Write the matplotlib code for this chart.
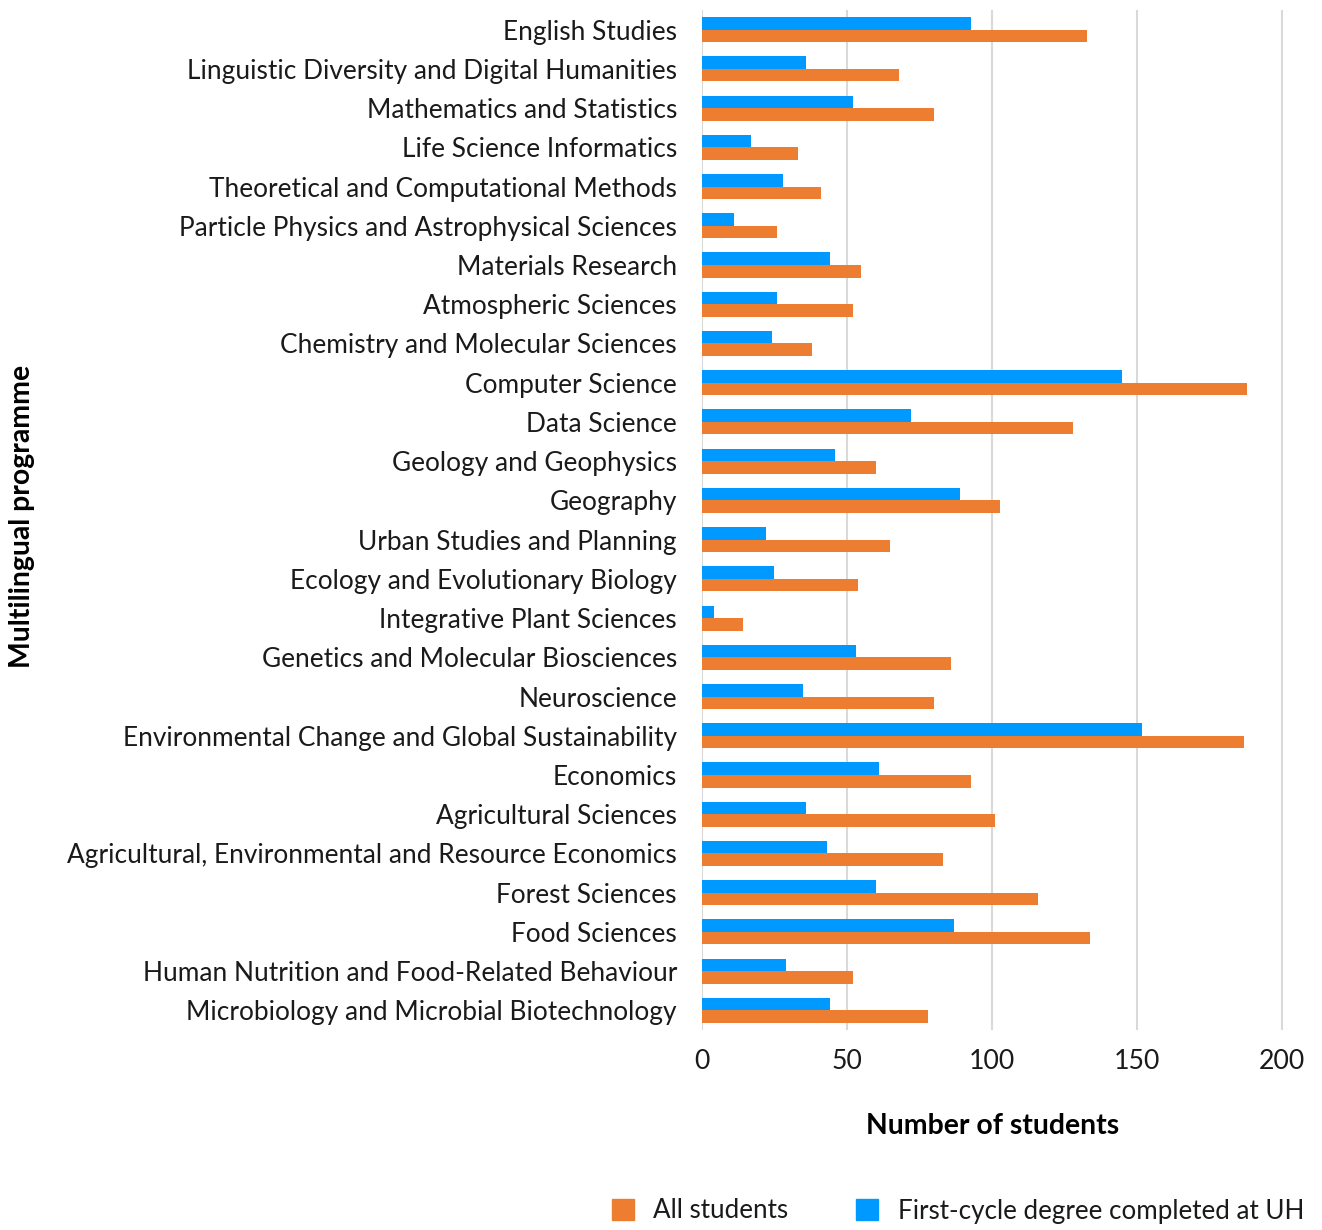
import matplotlib
matplotlib.use("Agg")
import matplotlib.pyplot as plt
from matplotlib.patches import Patch
import numpy as np

programmes = [
    "English Studies",
    "Linguistic Diversity and Digital Humanities",
    "Mathematics and Statistics",
    "Life Science Informatics",
    "Theoretical and Computational Methods",
    "Particle Physics and Astrophysical Sciences",
    "Materials Research",
    "Atmospheric Sciences",
    "Chemistry and Molecular Sciences",
    "Computer Science",
    "Data Science",
    "Geology and Geophysics",
    "Geography",
    "Urban Studies and Planning",
    "Ecology and Evolutionary Biology",
    "Integrative Plant Sciences",
    "Genetics and Molecular Biosciences",
    "Neuroscience",
    "Environmental Change and Global Sustainability",
    "Economics",
    "Agricultural Sciences",
    "Agricultural, Environmental and Resource Economics",
    "Forest Sciences",
    "Food Sciences",
    "Human Nutrition and Food-Related Behaviour",
    "Microbiology and Microbial Biotechnology",
]
first_cycle_uh = [93, 36, 52, 17, 28, 11, 44, 26, 24, 145, 72, 46, 89, 22, 25, 4,
                  53, 35, 152, 61, 36, 43, 60, 87, 29, 44]
all_students = [133, 68, 80, 33, 41, 26, 55, 52, 38, 188, 128, 60, 103, 65, 54, 14,
                86, 80, 187, 93, 101, 83, 116, 134, 52, 78]
x_ticks = [0, 50, 100, 150, 200]

FONT = ["Lato", "DejaVu Sans"]
plt.rcParams["font.family"] = FONT

ORANGE = "#ED7D31"
BLUE = "#0099FF"
TXT = "#1a1a1a"

W, H = 1322, 1230
fig = plt.figure(figsize=(W / 100, H / 100), dpi=100)
ax = fig.add_axes([702 / W, 1 - 1030 / H, 581 / W, 1020 / H])

y = np.arange(len(programmes))
h = 0.32
ax.barh(y - h / 2, first_cycle_uh, height=h, color=BLUE, zorder=3)
ax.barh(y + h / 2, all_students, height=h, color=ORANGE, zorder=3)

ax.set_ylim(len(programmes) - 0.5, -0.5)
ax.set_xlim(0, 200.5)
ax.set_yticks(y)
ax.set_yticklabels(programmes, fontsize=18.9, color=TXT)
ax.set_xticks(x_ticks)
ax.set_xticklabels([str(t) for t in x_ticks], fontsize=19.2, color=TXT)
ax.tick_params(axis="both", length=0)
ax.tick_params(axis="y", pad=18)
ax.tick_params(axis="x", pad=14)
ax.grid(axis="x", color="#D9D9D9", linewidth=1.5, zorder=0)
for s in ax.spines.values():
    s.set_visible(False)

ax.set_xlabel("Number of students", fontsize=20.4, fontweight="bold", labelpad=28, color="black")
fig.text(22 / W, 1 - 516 / H, "Multilingual programme", rotation=90,
         fontsize=20.4, fontweight="bold", ha="center", va="center", color="black")

handles = [Patch(color=ORANGE, label="All students"),
           Patch(color=BLUE, label="First-cycle degree completed at UH")]
fig.legend(handles=handles, loc="center", bbox_to_anchor=(958 / W, 1 - 1211 / H),
           ncol=2, frameon=False, fontsize=18.7, handlelength=0.85, handleheight=0.85,
           columnspacing=2.6, handletextpad=0.75, labelcolor=TXT)

fig.savefig("out.png", dpi=100)
